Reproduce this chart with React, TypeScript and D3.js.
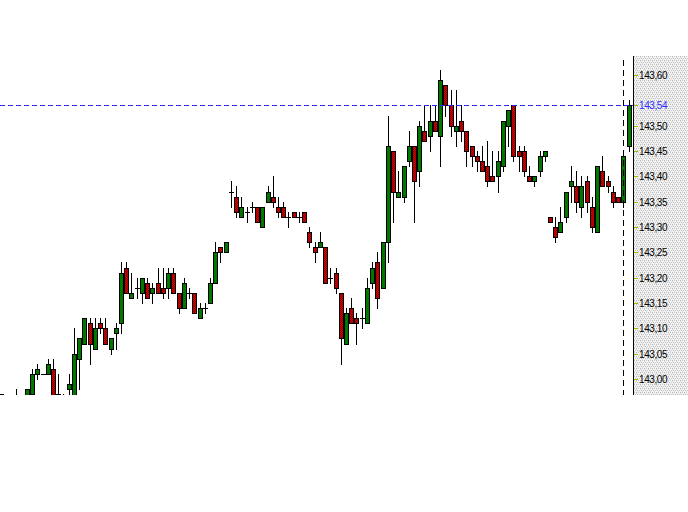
import React from "react";
import * as d3 from "d3";

const openPrices = [
  142.97, 142.94, 142.95, 142.95, 142.95, 142.95, 142.97, 143.01, 143.01, 143.01,
  143.02, 142.96, 142.95, 142.98, 142.96, 143.04, 143.07, 143.11, 143.06, 143.11,
  143.10, 143.06, 143.09, 143.11, 143.22, 143.16, 143.18, 143.17, 143.19, 143.17,
  143.19, 143.18, 143.18, 143.21, 143.17, 143.14, 143.17, 143.17, 143.12, 143.14,
  143.15, 143.19, 143.26, 143.25, 143.37, 143.36, 143.32, 143.33, 143.34, 143.34,
  143.30, 143.35, 143.36, 143.34, 143.34, 143.32, 143.33, 143.32, 143.33, 143.29,
  143.26, 143.26, 143.26, 143.20, 143.21, 143.17, 143.07, 143.14, 143.12, 143.12,
  143.11, 143.19, 143.23, 143.18, 143.27, 143.45, 143.36, 143.36, 143.43, 143.46,
  143.41, 143.49, 143.48, 143.51, 143.48, 143.58, 143.54, 143.49, 143.51, 143.49,
  143.46, 143.44, 143.43, 143.42, 143.40, 143.40, 143.42, 143.50, 143.54, 143.45,
  143.45, 143.40, 143.39, 143.41, 143.44, 143.32, 143.30, 143.29, 143.32, 143.38,
  143.38, 143.34, 143.39, 143.34, 143.29, 143.41, 143.39, 143.37, 143.36, 143.35, 143.46,
];
const highPrices = [
  142.97, 142.96, 142.96, 142.98, 142.96, 142.98, 143.02, 143.03, 143.01, 143.04,
  143.04, 143.01, 142.97, 143.01, 143.10, 143.08, 143.12, 143.12, 143.12, 143.12,
  143.12, 143.08, 143.11, 143.23, 143.23, 143.21, 143.20, 143.20, 143.20, 143.19,
  143.22, 143.22, 143.22, 143.22, 143.17, 143.20, 143.18, 143.17, 143.15, 143.15,
  143.20, 143.27, 143.26, 143.27, 143.39, 143.38, 143.36, 143.34, 143.35, 143.34,
  143.34, 143.38, 143.40, 143.36, 143.35, 143.33, 143.33, 143.33, 143.33, 143.30,
  143.27, 143.29, 143.26, 143.22, 143.22, 143.17, 143.14, 143.16, 143.13, 143.14,
  143.20, 143.23, 143.25, 143.27, 143.52, 143.45, 143.41, 143.42, 143.49, 143.46,
  143.51, 143.54, 143.54, 143.54, 143.61, 143.58, 143.57, 143.57, 143.54, 143.49,
  143.46, 143.45, 143.46, 143.47, 143.45, 143.45, 143.51, 143.53, 143.54, 143.46,
  143.46, 143.42, 143.40, 143.45, 143.45, 143.32, 143.32, 143.34, 143.37, 143.42,
  143.41, 143.40, 143.40, 143.36, 143.42, 143.44, 143.40, 143.38, 143.36, 143.44, 143.55,
];
const lowPrices = [
  142.94, 142.92, 142.93, 142.93, 142.94, 142.94, 142.97, 143.00, 143.01, 143.01,
  142.95, 142.95, 142.94, 142.96, 142.95, 142.98, 143.07, 143.03, 143.06, 143.09,
  143.07, 143.05, 143.06, 143.09, 143.17, 143.16, 143.16, 143.15, 143.16, 143.15,
  143.17, 143.16, 143.16, 143.17, 143.13, 143.14, 143.16, 143.13, 143.12, 143.13,
  143.15, 143.19, 143.23, 143.25, 143.34, 143.32, 143.32, 143.31, 143.33, 143.31,
  143.30, 143.35, 143.34, 143.32, 143.32, 143.30, 143.32, 143.31, 143.31, 143.26,
  143.23, 143.26, 143.19, 143.19, 143.17, 143.03, 143.07, 143.11, 143.07, 143.10,
  143.11, 143.18, 143.14, 143.18, 143.23, 143.31, 143.36, 143.35, 143.42, 143.31,
  143.38, 143.47, 143.45, 143.49, 143.42, 143.52, 143.48, 143.46, 143.47, 143.42,
  143.42, 143.41, 143.41, 143.38, 143.39, 143.37, 143.41, 143.46, 143.43, 143.41,
  143.40, 143.39, 143.38, 143.40, 143.43, 143.31, 143.27, 143.29, 143.31, 143.35,
  143.33, 143.32, 143.33, 143.29, 143.29, 143.38, 143.37, 143.34, 143.35, 143.34, 143.45,
];
const closePrices = [
  142.95, 142.95, 142.94, 142.96, 142.95, 142.98, 143.01, 143.02, 143.01, 143.03,
  142.96, 142.97, 142.96, 142.99, 143.05, 143.08, 143.12, 143.07, 143.10, 143.10,
  143.07, 143.08, 143.10, 143.21, 143.17, 143.17, 143.18, 143.20, 143.16, 143.18,
  143.17, 143.17, 143.21, 143.17, 143.14, 143.19, 143.17, 143.13, 143.14, 143.14,
  143.19, 143.25, 143.25, 143.27, 143.37, 143.33, 143.34, 143.33, 143.34, 143.31,
  143.34, 143.37, 143.35, 143.33, 143.32, 143.32, 143.32, 143.32, 143.31, 143.27,
  143.25, 143.27, 143.19, 143.20, 143.18, 143.08, 143.13, 143.11, 143.11, 143.12,
  143.18, 143.22, 143.16, 143.27, 143.46, 143.37, 143.37, 143.42, 143.46, 143.39,
  143.50, 143.47, 143.51, 143.49, 143.59, 143.54, 143.50, 143.50, 143.49, 143.45,
  143.44, 143.43, 143.41, 143.39, 143.39, 143.43, 143.51, 143.53, 143.44, 143.44,
  143.41, 143.39, 143.40, 143.44, 143.45, 143.31, 143.28, 143.31, 143.37, 143.39,
  143.35, 143.38, 143.35, 143.30, 143.42, 143.38, 143.38, 143.35, 143.35, 143.44, 143.54,
];
const tickValues = [143.0, 143.05, 143.1, 143.15, 143.2, 143.25, 143.3, 143.35, 143.4, 143.45, 143.5, 143.6];
const lastPrice = 143.54;

const W = 688;
const H = 512;
const plotLeft = 0;
const plotRight = 633;
const plotTop = 56;
const plotBottom = 395;

export default function App() {
  const n = openPrices.length;
  const x = d3.scaleLinear().domain([0, n - 1]).range([0.7, 628.5]);
  const y = d3.scaleLinear().domain([143.0, 143.6]).range([379, 75]);
  const fmt = (v: number) => d3.format(".2f")(v).replace(".", ",");
  const lastY = Math.round(y(lastPrice)) + 0.5;

  const candles = d3.range(n).map((i) => {
    const o = openPrices[i], h = highPrices[i], l = lowPrices[i], c = closePrices[i];
    const cx = Math.round(x(i));
    const yo = Math.round(y(o));
    const yc = Math.round(y(c));
    const yh = Math.round(y(h));
    const yl = Math.round(y(l));
    const top = Math.min(yo, yc);
    const bot = Math.max(yo, yc);
    const up = c > o;
    return (
      <g key={i}>
        {yl > yh && (
          <line x1={cx + 0.5} x2={cx + 0.5} y1={yh} y2={yl + 1} stroke="#000" strokeWidth={1} />
        )}
        {bot > top ? (
          <rect
            x={cx - 1.5}
            y={top + 0.5}
            width={4}
            height={bot - top}
            fill={up ? "#007800" : "url(#redfill)"}
            stroke="#000"
            strokeWidth={1}
          />
        ) : (
          <line x1={cx - 2} x2={cx + 3} y1={top + 0.5} y2={top + 0.5} stroke="#000" strokeWidth={1} />
        )}
      </g>
    );
  });

  return (
    <div style={{ position: "fixed", left: 0, top: 0 }}>
      <svg width={W} height={H} style={{ display: "block", background: "#fff" }} shapeRendering="crispEdges">
        <defs>
          <clipPath id="plotclip">
            <rect x={plotLeft} y={plotTop} width={plotRight - plotLeft} height={plotBottom - plotTop} />
          </clipPath>
          <pattern id="hatch" width={4} height={4} patternUnits="userSpaceOnUse">
            <rect width={4} height={4} fill="#f4f4f4" />
            <rect x={0} y={0} width={1} height={1} fill="#b8b8b8" />
            <rect x={2} y={0} width={1} height={1} fill="#c8c8c8" />
            <rect x={1} y={2} width={1} height={1} fill="#b8b8b8" />
            <rect x={3} y={2} width={1} height={1} fill="#c8c8c8" />
            <rect x={0} y={1} width={1} height={1} fill="#dcdcdc" />
            <rect x={2} y={3} width={1} height={1} fill="#dcdcdc" />
          </pattern>
          <pattern id="redfill" width={2} height={2} patternUnits="userSpaceOnUse">
            <rect width={2} height={2} fill="#d80000" />
            <rect x={0} y={0} width={1} height={1} fill="#900000" />
            <rect x={1} y={1} width={1} height={1} fill="#900000" />
          </pattern>
        </defs>

        <rect x={plotRight} y={plotTop} width={W - plotRight} height={plotBottom - plotTop} fill="url(#hatch)" />

        <g clipPath="url(#plotclip)">{candles}</g>

        <line
          x1={623.5}
          x2={623.5}
          y1={60}
          y2={plotBottom}
          stroke="#000"
          strokeWidth={1}
          strokeDasharray="6,4"
        />

        <line x1={0} x2={plotRight + 2} y1={lastY} y2={lastY} stroke="#2a2aff" strokeWidth={1} strokeDasharray="5,3" />

        <line x1={plotRight + 0.5} x2={plotRight + 0.5} y1={plotTop} y2={plotBottom} stroke="#000" strokeWidth={1} />

        {tickValues.map((t) => {
          const ty = Math.round(y(t)) + 0.5;
          return (
            <g key={t}>
              <line x1={plotRight + 1} x2={plotRight + 5} y1={ty} y2={ty} stroke="#9cbf00" strokeWidth={1} />
              <text
                x={639}
                y={ty}
                dy="0.35em"
                fontFamily="'Liberation Sans', Arial, sans-serif"
                fontSize={10}
                letterSpacing={-0.4}
                fill="#000"
                shapeRendering="auto"
              >
                {fmt(t)}
              </text>
            </g>
          );
        })}
        <line x1={plotRight + 1} x2={plotRight + 5} y1={lastY} y2={lastY} stroke="#9cbf00" strokeWidth={1} />
        <text
          x={639}
          y={lastY}
          dy="0.35em"
          fontFamily="'Liberation Sans', Arial, sans-serif"
          fontSize={10}
          letterSpacing={-0.4}
          fill="#2a2aff"
        >
          {fmt(lastPrice)}
        </text>
      </svg>
    </div>
  );
}
